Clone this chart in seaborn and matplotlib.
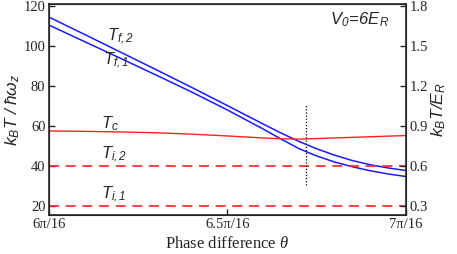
import numpy as np
import pandas as pd
import matplotlib
matplotlib.use('Agg')
import matplotlib.pyplot as plt
import seaborn as sns

# phase difference in units of pi/16
theta = [6.0, 6.1, 6.2, 6.3, 6.4, 6.5, 6.6, 6.65, 6.7, 6.75, 6.8, 6.85, 6.9, 6.95, 7.0]
T_f2 = [114.5, 105.8, 97.0, 88.2, 79.3, 70.2, 61.0, 56.5, 52.3, 48.6, 45.4, 42.7, 40.6, 39.0, 37.7]
T_f1 = [110.5, 102.2, 93.9, 85.5, 77.0, 68.0, 58.5, 53.5, 48.7, 45.0, 42.0, 39.6, 37.6, 36.0, 34.7]
T_c = [57.5, 57.3, 57.0, 56.6, 55.9, 55.0, 54.0, 53.6, 53.4, 53.7, 54.0, 54.3, 54.6, 54.9, 55.2]
T_i2 = 40.0
T_i1 = 20.0
marker_theta = 6.72
marker_range = [30.5, 70.5]

xticks = [6.0, 6.5, 7.0]
xtick_labels = ['6π/16', '6.5π/16', '7π/16']
yticks_left = [20, 40, 60, 80, 100, 120]
yticks_right = [0.3, 0.6, 0.9, 1.2, 1.5, 1.8]
E_scale = 0.015  # k_B T/E_R per k_B T/hbar w_z

sns.set_style('ticks')
plt.rcParams['font.family'] = ['Liberation Serif', 'DejaVu Serif']
plt.rcParams['mathtext.fontset'] = 'custom'
plt.rcParams['mathtext.it'] = 'Liberation Serif:italic'
plt.rcParams['mathtext.rm'] = 'Liberation Sans'
plt.rcParams['mathtext.sf'] = 'Liberation Sans:italic'

df = pd.DataFrame({'theta': theta, 'Tf2': T_f2, 'Tf1': T_f1, 'Tc': T_c})

fig = plt.figure(figsize=(4.57, 2.54), dpi=100)
ax = fig.add_axes([0.107, 0.154, 0.781, 0.830])

sns.lineplot(data=df, x='theta', y='Tf2', color='#1a1aff', lw=1.1, ax=ax)
sns.lineplot(data=df, x='theta', y='Tf1', color='#1a1aff', lw=1.1, ax=ax)
sns.lineplot(data=df, x='theta', y='Tc', color='#ff2020', lw=1.0, ax=ax)
ax.axhline(T_i2, color='#ff2020', lw=1.2, ls=(0, (6, 4)))
ax.axhline(T_i1, color='#ff2020', lw=1.2, ls=(0, (6, 4)))
ax.plot([marker_theta, marker_theta], marker_range, color='black', lw=0.9, ls=(0, (1, 1.5)))

ax.set_xlim(6.0, 7.0)
ax.set_ylim(15.5, 121)
ax.set_xticks(xticks)
ax.set_xticklabels(xtick_labels)
ax.set_yticks(yticks_left)
ax.tick_params(direction='in', length=4, width=1, labelsize=10.5, top=False, right=False, pad=2.5)
ax.set_xlabel(r'Phase difference $\theta$', fontsize=12, labelpad=3)
ax.set_ylabel(r'$\mathsf{k_B T\ /\ \hbar\omega_z}$', fontsize=12.5, labelpad=1)
for s in ax.spines.values():
    s.set_linewidth(1.2)

ax2 = ax.twinx()
ax2.set_ylim(15.5 * E_scale, 121 * E_scale)
ax2.set_yticks(yticks_right)
ax2.set_yticklabels([f'{v:.1f}' for v in yticks_right])
ax2.tick_params(direction='in', length=4, width=1, labelsize=10.5, pad=2.5)
ax2.set_ylabel(r'$\mathsf{k_B T/E_R}$', fontsize=12.5, labelpad=1)

lab = dict(fontsize=12, ha='center', va='center')
ax.text(6.199, 104.5, r'$\mathsf{T_{f,2}}$', **lab)
ax.text(6.188, 92.5, r'$\mathsf{T_{f,1}}$', **lab)
ax.text(6.171, 61.0, r'$\mathsf{T_c}$', **lab)
ax.text(6.182, 45.5, r'$\mathsf{T_{i,2}}$', **lab)
ax.text(6.182, 25.5, r'$\mathsf{T_{i,1}}$', **lab)
ax.text(6.871, 113, r'$\mathsf{V_0\!=\!6E_R}$', **lab)

fig.savefig('out.png', dpi=100)
